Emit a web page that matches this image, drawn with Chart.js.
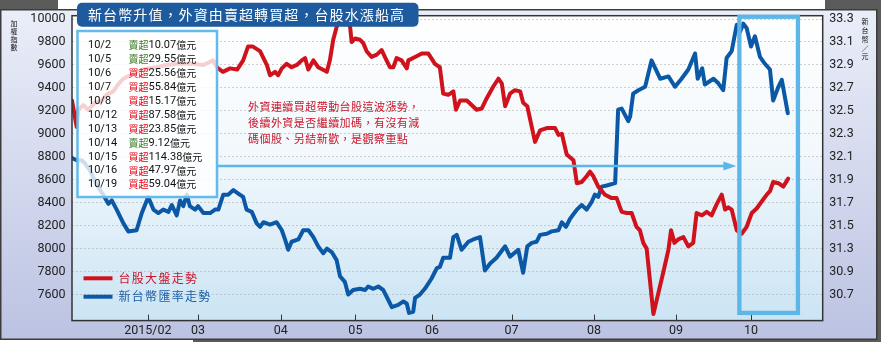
<!DOCTYPE html>
<html>
<head>
<meta charset="utf-8">
<script src="https://cdn.jsdelivr.net/npm/chart.js@4.4.1/dist/chart.umd.min.js"></script>
<style>
    html, body { margin: 0; padding: 0; background: #fff; }
    canvas { display: block; }
</style>
</head>
<body>
<canvas id="chart" width="881" height="342"></canvas>
<script>
// Data (x = trading-day index from early January 2015)
const redDays = [0, 1.25, 1.7, 3.0, 4.3, 6.1, 7.9, 9.2, 11.0, 12.3, 13.7, 15.5, 17.2, 19.9, 22.6, 25.2, 27.9, 32.3, 35.0, 37.6,
    38.6, 40.2, 42.1, 44.0, 45.6, 46.9, 48.2, 50.1, 51.9, 52.75, 54.1, 54.9, 55.9, 57.2, 58.5, 59.9, 61.2, 62.1, 62.95, 64.3,
    65.6, 67.9, 68.7, 69.6, 70.5, 71.4, 72.7, 74.1, 74.5, 75.4, 76.7, 77.6, 78.5, 79.8, 81.2, 82.5, 83.8, 84.7, 85.6, 86.5,
    87.8, 89.2, 89.6, 91.4, 93.2, 94.9, 96.7, 98.0, 98.9, 100.25, 101.6, 102.3, 103.4, 105.2, 107.8, 109.15, 110.5, 112.2, 113.6, 114.5,
    115.4, 116.7, 118.0, 119.4, 120.2, 121.3, 123.35, 124.7, 126.5, 128.7, 129.6, 130.5, 131.8, 133.6, 134.5, 135.8, 137.1, 138.0, 138.9, 140.2,
    142.0, 143.8, 145.1, 146.45, 147.8, 149.1, 150.4, 151.3, 152.2, 153.1, 154.9, 156.2, 157.5, 158.9, 159.6, 160.5, 161.5, 162.9, 164.2, 165.5,
    166.4, 167.8, 169.1, 170.4, 171.8, 173.1, 174.0, 174.85, 175.75, 177.1, 178.4, 179.75, 181.1, 182.4, 183.75, 185.1, 185.95, 186.8, 188.2, 189.5, 190.8];
const redValues = [9290, 9060, 9210, 9250, 9210, 9270, 9290, 9340, 9370, 9430, 9480, 9510, 9540, 9570, 9580, 9600, 9610, 9610, 9600, 9640,
    9580, 9540, 9570, 9560, 9640, 9760, 9760, 9720, 9600, 9510, 9540, 9510, 9570, 9610, 9580, 9600, 9640, 9660, 9560, 9640,
    9580, 9540, 9640, 9820, 9930, 10020, 10010, 9930, 9800, 9830, 9820, 9790, 9720, 9670, 9690, 9730, 9640, 9580, 9580, 9660,
    9640, 9570, 9640, 9670, 9700, 9700, 9610, 9580, 9350, 9340, 9370, 9210, 9290, 9290, 9210, 9220, 9310, 9410, 9480, 9440,
    9240, 9350, 9380, 9370, 9270, 9240, 8930, 9030, 9050, 9050, 8990, 9000, 8820, 8770, 8570, 8580, 8630, 8670, 8630, 8540,
    8470, 8440, 8440, 8320, 8310, 8310, 8190, 8160, 8050, 8000, 7430, 7610, 7790, 7990, 8160, 8050, 8080, 8100, 8020, 8050,
    8310, 8290, 8320, 8290, 8390, 8470, 8340, 8360, 8340, 8160, 8130, 8190, 8310, 8350, 8410, 8470, 8500, 8580, 8570, 8540, 8610];

const blueDays = [0, 1.25, 2.6, 3.5, 4.8, 6.7, 8.3, 9.7, 10.6, 11.9, 13.7, 15.0, 17.2, 18.6, 20.3, 21.7, 23.0, 24.3, 25.7, 26.6,
    27.9, 28.8, 29.65, 30.6, 31.4, 32.8, 33.6, 35.0, 36.8, 38.1, 39.0, 40.3, 41.6, 43.0, 44.3, 45.6, 46.5, 47.9, 49.2, 50.1,
    51.0, 52.75, 54.5, 55.9, 56.75, 57.6, 58.5, 60.3, 61.6, 63.0, 64.3, 65.6, 66.95, 67.9, 69.2, 70.5, 71.4, 72.7, 73.6, 74.9,
    76.7, 78.1, 78.9, 80.3, 81.6, 82.9, 84.3, 85.2, 86.9, 88.3, 89.2, 89.8, 90.9, 91.4, 92.7, 94.0, 95.8, 97.2, 98.0, 98.9,
    100.7, 101.6, 102.5, 103.8, 105.6, 106.9, 108.7, 110.0, 111.4, 113.1, 115.4, 116.7, 118.9, 120.2, 121.3, 122.5, 123.8, 124.7, 126.5, 127.8,
    129.6, 130.5, 131.6, 132.7, 134.5, 135.8, 137.1, 138.5, 139.3, 140.2, 141.1, 142.45, 144.7, 145.5, 146.45, 148.2, 148.7, 149.5, 150.9, 152.7,
    154.4, 156.7, 158.9, 160.65, 162.4, 164.2, 166.0, 166.7, 167.9, 168.6, 170.9, 172.2, 173.5, 174.4, 175.75, 177.1, 178.0, 178.85, 179.75, 180.9,
    181.95, 183.3, 184.6, 185.95, 186.8, 188.2, 189.1, 190.7];
const blueValues = [32.09, 32.07, 32.07, 32.04, 31.98, 31.85, 31.77, 31.69, 31.72, 31.64, 31.52, 31.45, 31.46, 31.61, 31.75, 31.64, 31.61, 31.64, 31.62, 31.68,
    31.59, 31.72, 31.67, 31.77, 31.67, 31.64, 31.67, 31.61, 31.61, 31.64, 31.64, 31.77, 31.77, 31.81, 31.78, 31.75, 31.64, 31.62, 31.52, 31.49,
    31.53, 31.51, 31.53, 31.46, 31.38, 31.29, 31.36, 31.38, 31.46, 31.46, 31.40, 31.32, 31.26, 31.30, 31.27, 31.20, 31.06, 31.01, 30.90, 30.94,
    30.95, 30.94, 30.97, 30.95, 30.97, 30.94, 30.85, 30.79, 30.81, 30.84, 30.82, 30.74, 30.75, 30.87, 30.90, 30.95, 31.04, 31.13, 31.14, 31.22,
    31.22, 31.40, 31.42, 31.29, 31.36, 31.38, 31.40, 31.11, 31.17, 31.22, 31.32, 31.23, 31.29, 31.09, 31.32, 31.35, 31.36, 31.42, 31.43, 31.45,
    31.46, 31.53, 31.49, 31.56, 31.64, 31.68, 31.64, 31.71, 31.77, 31.75, 31.84, 31.85, 31.87, 32.51, 32.52, 32.41, 32.45, 32.65, 32.68, 32.71,
    32.94, 32.78, 32.80, 32.71, 32.78, 32.86, 33.00, 32.78, 32.87, 32.73, 32.78, 32.74, 32.68, 32.96, 33.02, 33.25, 33.19, 33.26, 33.22, 33.06,
    33.15, 32.97, 32.91, 32.86, 32.59, 32.71, 32.77, 32.48];

const monthTicks = [20.2, 33.6, 55.6, 75.5, 95.9, 117.1, 139.1, 160.9, 180.9];
const monthLabels = ["2015/02", "03", "04", "05", "06", "07", "08", "09", "10"];
const leftTicks = [10000, 9800, 9600, 9400, 9200, 9000, 8800, 8600, 8400, 8200, 8000, 7800, 7600];
const rightTicks = [33.3, 33.1, 32.9, 32.7, 32.5, 32.3, 32.1, 31.9, 31.7, 31.5, 31.3, 31.1, 30.9];
const rightLabels = ["33.3", "33.1", "32.9", "32.7", "32.5", "32.3", "32.1", "31.9", "31.7", "31.5", "31.3", "30.9", "30.7"];

// Foreign investor flows listed in the box
const flowDates = ["10/2", "10/5", "10/6", "10/7", "10/8", "10/12", "10/13", "10/14", "10/15", "10/16", "10/19"];
const flowSides = ["賣超", "賣超", "買超", "買超", "買超", "買超", "買超", "賣超", "買超", "買超", "買超"];
const flowAmounts = ["10.07", "29.55", "25.56", "55.84", "15.17", "87.58", "23.85", "9.12", "114.38", "47.97", "59.04"];

const title = "新台幣升值，外資由賣超轉買超，台股水漲船高";
const note = ["外資連續買超帶動台股這波漲勢，", "後續外資是否繼續加碼，有沒有減", "碼個股、另結新歡，是觀察重點"];
const highlightDays = [177.8, 193.4];

const CJK = "\"Noto Sans CJK TC\"";
const RED = "#d0121d", BLUE = "#0b58a6";

// Draw a string one character at a time with a fixed advance
const spaced = (ctx, text, x, y, step) => {
    [...text].forEach((ch, i) => ctx.fillText(ch, x + i * step, y));
};
const stacked = (ctx, text, x, y, step) => {
    [...text].forEach((ch, i) => ctx.fillText(ch, x, y + i * step));
};

// Handle background panels
const backdrop = {
    id: "backdrop",
    beforeDraw: (chart) => {
        const ctx = chart.ctx, a = chart.chartArea, w = chart.width, h = chart.height;
        ctx.save();
        ctx.fillStyle = "#fff";
        ctx.fillRect(0, 0, w, h);
        ctx.fillStyle = "#5b5b5b";
        ctx.fillRect(0, 0, 58, 9);
        ctx.fillRect(825, 0, w - 825, 9);
        ctx.fillRect(877, 0, w - 877, h);
        ctx.fillRect(193, 340, w - 193, h - 340);

        let g = ctx.createLinearGradient(0, 9, 0, 340);
        g.addColorStop(0, "#eaeef9");
        g.addColorStop(1, "#bcc3e2");
        ctx.fillStyle = g;
        ctx.fillRect(0, 9, 877, 331);
        ctx.strokeStyle = "#3c3c3c";
        ctx.lineWidth = 1.5;
        ctx.strokeRect(0.75, 9.75, 876, 329.5);

        g = ctx.createLinearGradient(0, a.top, 0, a.bottom);
        g.addColorStop(0, "#ffffff");
        g.addColorStop(0.45, "#f2f8fc");
        g.addColorStop(1, "#cbe4f4");
        ctx.fillStyle = g;
        ctx.fillRect(a.left, a.top, a.right - a.left, a.bottom - a.top);

        // Axis titles stacked vertically
        ctx.fillStyle = "#111";
        ctx.textAlign = "center";
        ctx.textBaseline = "middle";
        ctx.font = "7px " + CJK;
        stacked(ctx, "加權指數", 14, 23, 8);
        stacked(ctx, "新台幣／元", 865, 21.5, 8.8);
        ctx.restore();
    }
};

// Handle annotations drawn over the lines
const decor = {
    id: "decor",
    afterDatasetsDraw: (chart) => {
        const ctx = chart.ctx, a = chart.chartArea, xs = chart.scales.x, ys = chart.scales.y;
        ctx.save();

        // Plot frame and inner month ticks
        ctx.strokeStyle = "#333";
        ctx.lineWidth = 1.5;
        ctx.strokeRect(a.left, a.top, a.right - a.left, a.bottom - a.top);
        ctx.lineWidth = 1;
        for (const t of monthTicks) {
            const px = Math.round(xs.getPixelForValue(t)) + 0.5;
            ctx.beginPath();
            ctx.moveTo(px, a.bottom);
            ctx.lineTo(px, a.bottom - 6);
            ctx.stroke();
        }

        // Flow table box
        ctx.fillStyle = "rgba(255,255,255,0.8)";
        ctx.fillRect(77.5, 31, 139.5, 166);
        ctx.strokeStyle = "#62bbea";
        ctx.lineWidth = 2.5;
        ctx.strokeRect(77.5, 31, 139.5, 166);
        ctx.textBaseline = "middle";
        ctx.textAlign = "left";
        flowDates.forEach((d, i) => {
            const y = 45 + i * 13.97;
            ctx.font = "11px Roboto";
            ctx.fillStyle = "#111";
            ctx.fillText(d, 88, y);
            ctx.font = "10px " + CJK;
            ctx.fillStyle = flowSides[i] === "賣超" ? "#3b7d23" : "#e60012";
            ctx.fillText(flowSides[i], 128.5, y);
            ctx.fillStyle = "#111";
            ctx.font = "11px Roboto";
            ctx.fillText(flowAmounts[i], 148.5, y);
            const w = ctx.measureText(flowAmounts[i]).width;
            ctx.font = "10px " + CJK;
            ctx.fillText("億元", 148.5 + w, y);
        });

        // Highlight of October
        const hx0 = xs.getPixelForValue(highlightDays[0]), hx1 = xs.getPixelForValue(highlightDays[1]);
        const hy0 = ys.getPixelForValue(10020), hy1 = ys.getPixelForValue(7440);
        ctx.strokeStyle = "#5cb6e8";
        ctx.lineWidth = 4.3;
        ctx.strokeRect(hx0, hy0, hx1 - hx0, hy1 - hy0);

        // Arrow from the table to the highlight
        const ay = ys.getPixelForValue(8720);
        ctx.lineWidth = 2.5;
        ctx.beginPath();
        ctx.moveTo(217, ay);
        ctx.lineTo(hx0 - 12, ay);
        ctx.stroke();
        ctx.fillStyle = "#5cb6e8";
        ctx.beginPath();
        ctx.moveTo(hx0 - 3, ay);
        ctx.lineTo(hx0 - 16, ay - 4.5);
        ctx.lineTo(hx0 - 16, ay + 4.5);
        ctx.closePath();
        ctx.fill();

        // Comment text
        ctx.fillStyle = "#c8172b";
        ctx.font = "11px " + CJK;
        note.forEach((line, i) => spaced(ctx, line, 248, 106.5 + i * 16, 11.45));

        // Legend
        chart.data.datasets.forEach((ds, i) => {
            const y = 278.3 + i * 18.4;
            ctx.strokeStyle = ds.borderColor;
            ctx.lineWidth = 4;
            ctx.beginPath();
            ctx.moveTo(83.5, y);
            ctx.lineTo(112.5, y);
            ctx.stroke();
            ctx.fillStyle = i === 0 ? "#c8162b" : "#1c5ea6";
            ctx.font = "12px " + CJK;
            spaced(ctx, ds.label, 118.5, y, 13.3);
        });

        // Title banner
        ctx.fillStyle = "#1d5b9e";
        ctx.beginPath();
        ctx.roundRect(77, 2.7, 341.5, 24, 5);
        ctx.fill();
        ctx.fillStyle = "#fff";
        ctx.font = "14px " + CJK;
        spaced(ctx, title, 88, 15, 15.1);
        ctx.restore();
    }
};

// Handle Chart.js
const tickFont = { family: "Roboto", size: 12.5 };
new Chart(document.getElementById("chart"), {
    type: "line",
    data: {
        datasets: [
            {
                label: "台股大盤走勢",
                data: redDays.map((d, i) => ({ x: d, y: redValues[i] })),
                borderColor: RED,
                borderWidth: 4,
                yAxisID: "y"
            },
            {
                label: "新台幣匯率走勢",
                data: blueDays.map((d, i) => ({ x: d, y: blueValues[i] })),
                borderColor: BLUE,
                borderWidth: 4,
                yAxisID: "y2"
            }
        ]
    },
    options: {
        responsive: false,
        animation: false,
        layout: { padding: { top: 15.7, left: 0, right: 0, bottom: 0 } },
        elements: {
            point: { radius: 0 },
            line: { tension: 0, borderJoinStyle: "round", borderCapStyle: "round" }
        },
        plugins: { legend: { display: false }, tooltip: { enabled: false } },
        scales: {
            x: {
                type: "linear",
                min: 0,
                max: 200,
                afterBuildTicks: (s) => { s.ticks = monthTicks.map(v => ({ value: v })); },
                afterFit: (s) => { s.height = 21.4; },
                grid: { display: false, drawTicks: false },
                border: { display: false },
                ticks: {
                    autoSkip: false,
                    maxRotation: 0,
                    padding: 3,
                    color: "#222",
                    font: tickFont,
                    callback: (v, i) => monthLabels[i]
                }
            },
            y: {
                position: "left",
                min: 7373,
                max: 10029,
                afterBuildTicks: (s) => { s.ticks = leftTicks.map(v => ({ value: v })); },
                afterFit: (s) => { s.width = 72; },
                grid: { color: "rgba(170,170,170,0.55)", lineWidth: 1, drawTicks: false },
                border: { display: false, dash: [2, 2] },
                ticks: { padding: 6.5, color: "#222", font: tickFont, callback: (v) => String(v) }
            },
            y2: {
                position: "right",
                min: 30.673,
                max: 33.329,
                afterBuildTicks: (s) => { s.ticks = rightTicks.map(v => ({ value: v })); },
                afterFit: (s) => { s.width = 58.3; },
                grid: { display: false, drawTicks: false },
                border: { display: false },
                ticks: { padding: 6.6, color: "#222", font: tickFont, callback: (v, i) => rightLabels[i] }
            }
        }
    },
    plugins: [backdrop, decor]
});
</script>
</body>
</html>
